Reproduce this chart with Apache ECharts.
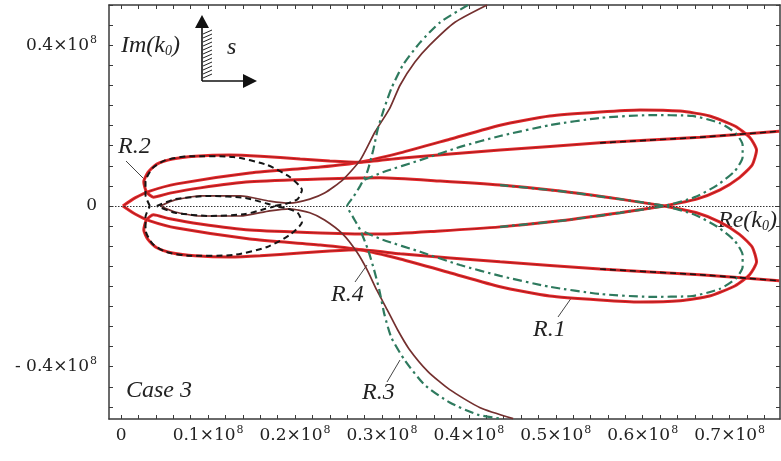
<!DOCTYPE html>
<html>
<head>
<meta charset="utf-8">
<script src="https://cdn.jsdelivr.net/npm/echarts@6/dist/echarts.min.js"></script>
<style>
  html, body { margin: 0; padding: 0; background: #fff; }
  #main { width: 781px; height: 461px; }
</style>
</head>
<body>
<div id="main"></div>
<script>
// values in units of 10^8  ([Re(k0), Im(k0)])
var xLabelValues = [0, 0.1, 0.2, 0.3, 0.4, 0.5, 0.6, 0.7];
var xTickValues = [0, 0.02, 0.04, 0.06, 0.08, 0.1, 0.12, 0.14, 0.16, 0.18, 0.2, 0.22, 0.24, 0.26, 0.28,
  0.3, 0.32, 0.34, 0.36, 0.38, 0.4, 0.42, 0.44, 0.46, 0.48, 0.5, 0.52, 0.54, 0.56, 0.58,
  0.6, 0.62, 0.64, 0.66, 0.68, 0.7, 0.72, 0.74];
var yLabelValues = [-0.4, 0, 0.4];
var yTickValues = [-0.5, -0.45, -0.4, -0.35, -0.3, -0.25, -0.2, -0.15, -0.1, -0.05, 0,
  0.05, 0.1, 0.15, 0.2, 0.25, 0.3, 0.35, 0.4, 0.45, 0.5];

// R.1 lobes (red), from the tip round to the crossing on the real axis
var lobeUpper = [[0.002, 0], [0.016, 0.020], [0.033, 0.037], [0.064, 0.055], [0.148, 0.082], [0.229, 0.097],
  [0.275, 0.109], [0.321, 0.132], [0.378, 0.166], [0.436, 0.201], [0.493, 0.224], [0.551, 0.234],
  [0.597, 0.239], [0.643, 0.236], [0.677, 0.224], [0.706, 0.199], [0.723, 0.171], [0.731, 0.139],
  [0.726, 0.102], [0.711, 0.070], [0.689, 0.040], [0.662, 0.017], [0.625, 0]];
var lobeLower = [[0.002, 0], [0.016, -0.020], [0.033, -0.037], [0.064, -0.055], [0.148, -0.082], [0.229, -0.097],
  [0.275, -0.109], [0.321, -0.132], [0.378, -0.166], [0.436, -0.201], [0.493, -0.224], [0.551, -0.234],
  [0.597, -0.239], [0.643, -0.236], [0.677, -0.224], [0.706, -0.199], [0.723, -0.171], [0.731, -0.139],
  [0.726, -0.102], [0.711, -0.070], [0.689, -0.040], [0.662, -0.017], [0.625, 0]];

// R.2 lobes (red) + the long lines running out to the right
var r2Upper = [[0.625, 0], [0.574, 0.017], [0.505, 0.037], [0.436, 0.052], [0.367, 0.062], [0.298, 0.070],
  [0.229, 0.067], [0.148, 0.060], [0.091, 0.045], [0.056, 0.032], [0.037, 0.022], [0.029, 0.035],
  [0.026, 0.060], [0.031, 0.084], [0.041, 0.104], [0.059, 0.117], [0.085, 0.124], [0.125, 0.127],
  [0.160, 0.124], [0.206, 0.117], [0.240, 0.112], [0.275, 0.109], [0.321, 0.119], [0.436, 0.139],
  [0.551, 0.157], [0.666, 0.171], [0.757, 0.186]];
var r2Lower = [[0.625, 0], [0.574, -0.017], [0.505, -0.037], [0.436, -0.052], [0.367, -0.062], [0.298, -0.070],
  [0.229, -0.067], [0.148, -0.060], [0.091, -0.045], [0.056, -0.032], [0.037, -0.022], [0.029, -0.035],
  [0.026, -0.060], [0.031, -0.084], [0.041, -0.104], [0.059, -0.117], [0.085, -0.124], [0.125, -0.127],
  [0.160, -0.124], [0.206, -0.117], [0.240, -0.112], [0.275, -0.109], [0.321, -0.119], [0.436, -0.139],
  [0.551, -0.157], [0.666, -0.171], [0.757, -0.186]];

// R.3 (green dash-dot)
var greenBranch = [[0.399, 0.5], [0.367, 0.457], [0.344, 0.407], [0.324, 0.350], [0.311, 0.293], [0.302, 0.239],
  [0.295, 0.189], [0.290, 0.139], [0.283, 0.084], [0.275, 0.050], [0.267, 0.022], [0.260, 0],
  [0.266, -0.025], [0.275, -0.060], [0.284, -0.109], [0.291, -0.159], [0.297, -0.209], [0.303, -0.271],
  [0.311, -0.328], [0.326, -0.383], [0.349, -0.445], [0.378, -0.489], [0.410, -0.519], [0.436, -0.529]];
var greenLoopUpper = [[0.280, 0.065], [0.301, 0.084], [0.344, 0.114], [0.390, 0.147], [0.436, 0.174],
  [0.493, 0.201], [0.551, 0.219], [0.608, 0.226], [0.657, 0.224], [0.689, 0.206], [0.707, 0.181],
  [0.715, 0.152], [0.715, 0.122], [0.706, 0.087], [0.686, 0.052], [0.660, 0.022], [0.625, 0],
  [0.574, -0.017], [0.505, -0.037], [0.436, -0.052]];
var greenLoopLower = [[0.280, -0.065], [0.301, -0.084], [0.344, -0.114], [0.390, -0.147], [0.436, -0.174],
  [0.493, -0.201], [0.551, -0.219], [0.608, -0.226], [0.657, -0.224], [0.689, -0.206], [0.707, -0.181],
  [0.715, -0.152], [0.715, -0.122], [0.706, -0.087], [0.686, -0.052], [0.660, -0.022], [0.625, 0],
  [0.574, 0.017], [0.505, 0.037], [0.436, 0.052]];

// R.4 (dark brown)
var brownUpper = [[0.045, 0], [0.062, 0.015], [0.091, 0.025], [0.137, 0.025], [0.171, 0.012], [0.194, 0.007],
  [0.217, 0.017], [0.234, 0.032], [0.255, 0.065], [0.275, 0.114], [0.292, 0.184], [0.309, 0.243],
  [0.321, 0.301], [0.338, 0.358], [0.355, 0.400], [0.384, 0.457], [0.421, 0.5]];
var brownLower = [[0.045, 0], [0.062, -0.015], [0.091, -0.025], [0.137, -0.025], [0.171, -0.012], [0.194, -0.007],
  [0.217, -0.017], [0.234, -0.035], [0.255, -0.070], [0.271, -0.114], [0.283, -0.159], [0.294, -0.209],
  [0.306, -0.258], [0.318, -0.308], [0.331, -0.355], [0.353, -0.412], [0.378, -0.457], [0.413, -0.502],
  [0.451, -0.529]];

// black dashed
var dashLobe = [[0.033, 0], [0.028, 0.027], [0.028, 0.060], [0.036, 0.094], [0.051, 0.114], [0.079, 0.124],
  [0.129, 0.122], [0.168, 0.102], [0.194, 0.072], [0.208, 0.040], [0.203, 0.017], [0.189, 0.005], [0.177, 0],
  [0.189, -0.005], [0.203, -0.017], [0.208, -0.040], [0.194, -0.072], [0.168, -0.102], [0.129, -0.122],
  [0.079, -0.124], [0.051, -0.114], [0.036, -0.094], [0.028, -0.060], [0.028, -0.027], [0.033, 0]];
var dashInner = [[0.041, 0], [0.062, 0.017], [0.102, 0.025], [0.143, 0.020], [0.166, 0.007], [0.177, 0],
  [0.166, -0.007], [0.143, -0.020], [0.102, -0.025], [0.062, -0.017], [0.041, 0]];
var dashLineA = [[0.551, 0.157], [0.666, 0.171], [0.757, 0.186]];
var dashLineB = [[0.551, -0.157], [0.666, -0.171], [0.757, -0.186]];

var TICK_FONT = '"DejaVu Serif", "Liberation Serif", serif';
var FONT = '"Liberation Serif", "DejaVu Serif", serif';
var INK = '#222';

function tickLabel(v) {
  if (Math.abs(v) < 1e-9) return '{b|0}';
  var sign = v < 0 ? '- ' : '';
  return '{b|' + sign + Math.abs(v).toFixed(1) + '×10}{s|8}';
}
var labelRich = {
  b: { fontSize: 17, fontFamily: TICK_FONT, color: INK, lineHeight: 22 },
  s: { fontSize: 11, fontFamily: TICK_FONT, color: INK, verticalAlign: 'top', padding: [0, 0, 0, 1] }
};
var frameLine = { show: true, onZero: false, lineStyle: { color: '#3a3a3a', width: 1.5 } };
var tickStyle = { color: '#3a3a3a', width: 1 };

function redSeries(data) {
  return [
    { type: 'line', data: data, showSymbol: false, smooth: 0.2, silent: true,
      lineStyle: { color: '#e8282b', width: 3 } },
    { type: 'line', data: data, showSymbol: false, smooth: 0.2, silent: true, z: 3,
      lineStyle: { color: '#9a1e1e', width: 0.9 } }
  ];
}
function styled(data, color, width, type, z) {
  return { type: 'line', data: data, showSymbol: false, smooth: 0.2, silent: true, z: z,
    lineStyle: { color: color, width: width, type: type } };
}

var series = [
  { type: 'line', data: [], silent: true,
    markLine: { silent: true, symbol: ['none', 'none'], label: { show: false },
      lineStyle: { color: '#333', width: 1, type: [1.5, 1.5] },
      data: [{ yAxis: 0 }] } }
];
series = series.concat(redSeries(lobeUpper), redSeries(lobeLower), redSeries(r2Upper), redSeries(r2Lower));
series.push(styled(brownUpper, '#74302f', 1.7, 'solid', 4));
series.push(styled(brownLower, '#74302f', 1.7, 'solid', 4));
series.push(styled(greenBranch, '#2e7a5e', 2.2, [9, 4, 2.5, 4], 5));
series.push(styled(greenLoopUpper, '#2e7a5e', 2.2, [9, 4, 2.5, 4], 5));
series.push(styled(greenLoopLower, '#2e7a5e', 2.2, [9, 4, 2.5, 4], 5));
series.push(styled(dashLobe, '#151515', 2, [6, 4], 6));
series.push(styled(dashInner, '#151515', 2, [6, 4], 6));
series.push(styled(dashLineA, '#151515', 1.6, [6, 4], 6));
series.push(styled(dashLineB, '#151515', 1.6, [6, 4], 6));

// annotations
var italic = function (size) { return 'italic ' + size + 'px ' + FONT; };
var subRich = { a: { font: italic(24), fill: INK }, b: { font: italic(14), fill: INK, verticalAlign: 'bottom' } };
var graphics = [
  { type: 'text', x: 121, y: 34, style: { text: '{a|Im(k}{b|0}{a|)}', fill: INK, rich: subRich } },
  { type: 'text', x: 227, y: 36, style: { text: 's', font: italic(24), fill: INK } },
  { type: 'line', shape: { x1: 202, y1: 81, x2: 202, y2: 26 }, style: { stroke: '#111', lineWidth: 1.6 } },
  { type: 'polygon', shape: { points: [[195, 28], [209, 28], [202, 15]] }, style: { fill: '#111' } },
  { type: 'line', shape: { x1: 202, y1: 81, x2: 245, y2: 81 }, style: { stroke: '#111', lineWidth: 1.6 } },
  { type: 'polygon', shape: { points: [[243, 74], [243, 88], [257, 81]] }, style: { fill: '#111' } },
  { type: 'text', x: 118, y: 135, style: { text: 'R.2', font: italic(24), fill: INK } },
  { type: 'line', shape: { x1: 126, y1: 161, x2: 144, y2: 179 }, style: { stroke: '#444', lineWidth: 1 } },
  { type: 'text', x: 331, y: 283, style: { text: 'R.4', font: italic(24), fill: INK } },
  { type: 'line', shape: { x1: 355, y1: 282, x2: 367, y2: 265 }, style: { stroke: '#444', lineWidth: 1 } },
  { type: 'text', x: 362, y: 381, style: { text: 'R.3', font: italic(24), fill: INK } },
  { type: 'line', shape: { x1: 387, y1: 382, x2: 400, y2: 360 }, style: { stroke: '#444', lineWidth: 1 } },
  { type: 'text', x: 533, y: 318, style: { text: 'R.1', font: italic(24), fill: INK } },
  { type: 'line', shape: { x1: 558, y1: 317, x2: 572, y2: 297 }, style: { stroke: '#444', lineWidth: 1 } },
  { type: 'text', x: 718, y: 209, style: { text: '{a|Re(k}{b|0}{a|)}', fill: INK, rich: subRich } },
  { type: 'text', x: 126, y: 379, style: { text: 'Case 3', font: italic(24), fill: INK } }
];
// hatching beside the vertical arrow
for (var h = 30; h <= 74; h += 4) {
  graphics.push({ type: 'line', shape: { x1: 203, y1: h + 4, x2: 212, y2: h },
    style: { stroke: '#222', lineWidth: 1 } });
}

var chart = echarts.init(document.getElementById('main'), null, { renderer: 'canvas' });
chart.setOption({
  animation: false,
  backgroundColor: '#fff',
  grid: { left: 109, right: 1, top: 5, bottom: 42, containLabel: false, outerBoundsMode: 'none' },
  xAxis: [
    { type: 'value', position: 'bottom', min: -0.014, max: 0.758,
      axisLine: frameLine,
      axisTick: { show: true, inside: true, length: 4, customValues: xTickValues, lineStyle: tickStyle },
      axisLabel: { customValues: xLabelValues, formatter: tickLabel, rich: labelRich, margin: 6,
        fontSize: 17, fontFamily: TICK_FONT, color: INK },
      splitLine: { show: false } },
    { type: 'value', position: 'top', min: -0.014, max: 0.758,
      axisLine: frameLine,
      axisTick: { show: true, inside: true, length: 4, customValues: xTickValues, lineStyle: tickStyle },
      axisLabel: { show: false }, splitLine: { show: false } }
  ],
  yAxis: [
    { type: 'value', position: 'left', min: -0.53, max: 0.5,
      axisLine: frameLine,
      axisTick: { show: true, inside: true, length: 4, customValues: yTickValues, lineStyle: tickStyle },
      axisLabel: { customValues: yLabelValues, formatter: tickLabel, rich: labelRich, margin: 12,
        fontSize: 17, fontFamily: TICK_FONT, color: INK },
      splitLine: { show: false } },
    { type: 'value', position: 'right', min: -0.53, max: 0.5,
      axisLine: frameLine,
      axisTick: { show: true, inside: true, length: 4, customValues: yTickValues, lineStyle: tickStyle },
      axisLabel: { show: false }, splitLine: { show: false } }
  ],
  series: series,
  graphic: graphics
});
</script>
</body>
</html>
